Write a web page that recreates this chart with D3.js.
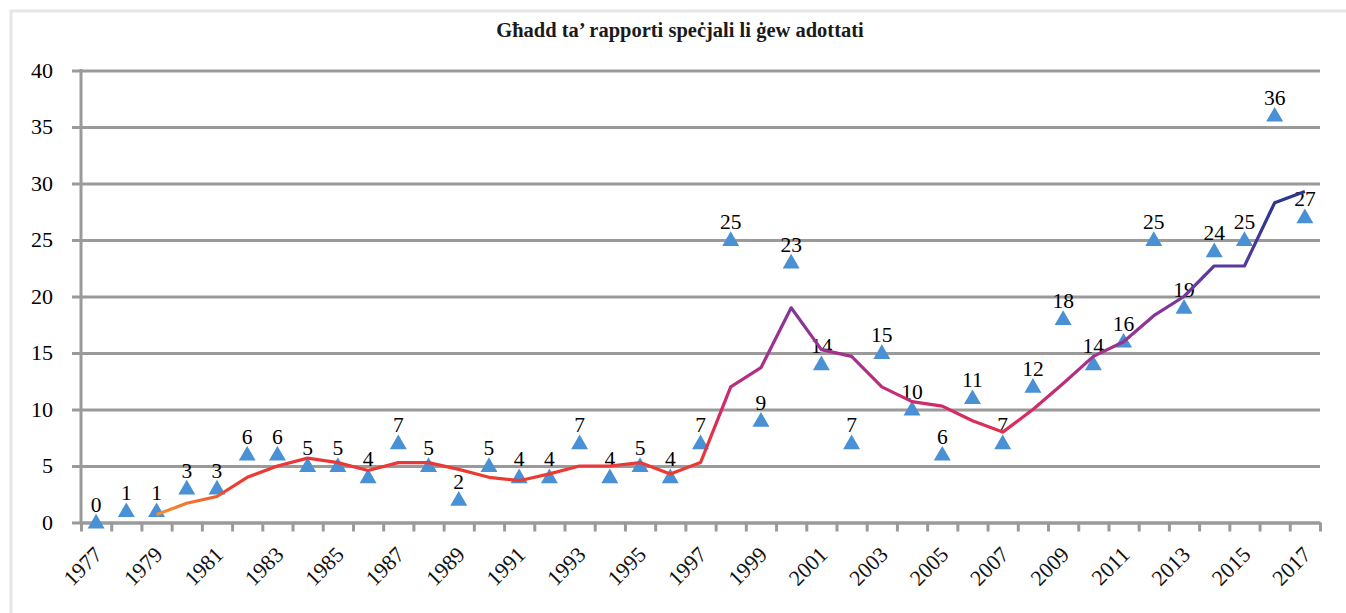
<!DOCTYPE html>
<html>
<head>
<meta charset="utf-8">
<script src="https://cdn.jsdelivr.net/npm/d3@7"></script>
<style>
  body { margin: 0; background: #fff; }
  svg { display: block; font-family: "Liberation Serif", "DejaVu Serif", serif; }
</style>
</head>
<body>
<svg id="chart" width="1346" height="613"></svg>
<script>
const title = "Għadd ta’ rapporti speċjali li ġew adottati";

const years = [1977, 1978, 1979, 1980, 1981, 1982, 1983, 1984, 1985, 1986,
  1987, 1988, 1989, 1990, 1991, 1992, 1993, 1994, 1995, 1996,
  1997, 1998, 1999, 2000, 2001, 2002, 2003, 2004, 2005, 2006,
  2007, 2008, 2009, 2010, 2011, 2012, 2013, 2014, 2015, 2016, 2017];

const reports = [0, 1, 1, 3, 3, 6, 6, 5, 5, 4,
  7, 5, 2, 5, 4, 4, 7, 4, 5, 4,
  7, 25, 9, 23, 14, 7, 15, 10, 6, 11,
  7, 12, 18, 14, 16, 25, 19, 24, 25, 36, 27];

// moving-average trend line (starts in 1979)
const trend = [null, null, 0.7, 1.7, 2.3, 4, 5, 5.7, 5.3, 4.6,
  5.3, 5.3, 4.7, 4, 3.7, 4.3, 5, 5, 5.3, 4.3,
  5.3, 12, 13.7, 19, 15.3, 14.7, 12, 10.7, 10.3, 9,
  8, 10, 12.3, 14.7, 16, 18.3, 20, 22.7, 22.7, 28.3, 29.3];

const yTicks = [0, 5, 10, 15, 20, 25, 30, 35, 40];
const labelYears = years.filter((d, i) => i % 2 === 0);

// colour of the trend line changes with its height
const trendStops = [
  { v: 0, c: "#f7a233" },
  { v: 1.6, c: "#f07a2e" },
  { v: 3, c: "#ee3e2e" },
  { v: 7, c: "#e63440" },
  { v: 10, c: "#d42a68" },
  { v: 14, c: "#aa2f8a" },
  { v: 18, c: "#8b3597" },
  { v: 22, c: "#60399d" },
  { v: 27, c: "#30378f" },
  { v: 30, c: "#2b348b" }
];

const svg = d3.select("#chart");
const plotLeft = 81, plotRight = 1320, plotTop = 70.5, plotBottom = 522.5;

const x = d3.scaleBand().domain(years).range([plotLeft, plotRight]);
const xEdge = d3.scaleLinear().domain([0, years.length]).range([plotLeft, plotRight]);
const y = d3.scaleLinear().domain([0, 40]).range([plotBottom, plotTop]);
const cx = yr => x(yr) + x.bandwidth() / 2;

// outer frame
svg.append("rect")
  .attr("x", 11).attr("y", 11)
  .attr("width", 1400).attr("height", 700)
  .attr("fill", "none")
  .attr("stroke", "#e6e6e6")
  .attr("stroke-width", 3);

svg.append("text")
  .attr("x", 680).attr("y", 37)
  .attr("text-anchor", "middle")
  .attr("font-weight", "bold")
  .attr("font-size", 20.5)
  .attr("fill", "#1a1a1a")
  .text(title);

// grid lines (with the little tick stubs left of the axis)
const yAxis = svg.append("g")
  .attr("transform", `translate(${plotRight},0)`)
  .call(d3.axisLeft(y).tickValues(yTicks).tickSize(plotRight - plotLeft + 9).tickFormat(""));
yAxis.select(".domain").remove();
yAxis.selectAll(".tick line")
  .attr("stroke", "#9a9a9a")
  .attr("stroke-width", 3);

svg.append("g").selectAll("text")
  .data(yTicks)
  .join("text")
  .attr("x", 53)
  .attr("y", d => y(d))
  .attr("dy", "0.34em")
  .attr("text-anchor", "end")
  .attr("font-size", 22)
  .attr("fill", "#000")
  .text(d => d);

// vertical axis line
svg.append("line")
  .attr("x1", plotLeft).attr("x2", plotLeft)
  .attr("y1", plotTop - 1.5).attr("y2", plotBottom + 1.5)
  .attr("stroke", "#9a9a9a")
  .attr("stroke-width", 3);

// x axis with tick marks between categories
const xAxis = svg.append("g")
  .attr("transform", `translate(0,${plotBottom})`)
  .call(d3.axisBottom(xEdge).tickValues(d3.range(years.length + 1)).tickSize(9).tickSizeOuter(0).tickFormat(""));
xAxis.select(".domain")
  .attr("stroke", "#9a9a9a")
  .attr("stroke-width", 3);
xAxis.selectAll(".tick line")
  .attr("stroke", "#9a9a9a")
  .attr("stroke-width", 3);

svg.append("g").selectAll("text")
  .data(labelYears)
  .join("text")
  .attr("text-anchor", "end")
  .attr("font-size", 22)
  .attr("fill", "#111")
  .attr("transform", d => `translate(${cx(d) + 7.5},556) rotate(-45)`)
  .text(d => d);

// markers
const tri = d3.symbol().type(d3.symbolTriangle).size(125);
svg.append("g").selectAll("path")
  .data(reports)
  .join("path")
  .attr("d", tri)
  .attr("transform", (d, i) => `translate(${cx(years[i])},${y(d) + 1})`)
  .attr("fill", "#4a90d4");

// data labels
svg.append("g").selectAll("text")
  .data(reports)
  .join("text")
  .attr("x", (d, i) => cx(years[i]))
  .attr("y", d => y(d) - 11)
  .attr("text-anchor", "middle")
  .attr("font-size", 21.5)
  .attr("fill", "#000")
  .text(d => d);

// trend line gradient
const grad = svg.append("defs").append("linearGradient")
  .attr("id", "trendGrad")
  .attr("gradientUnits", "userSpaceOnUse")
  .attr("x1", 0).attr("x2", 0)
  .attr("y1", y(0)).attr("y2", y(30));
grad.selectAll("stop")
  .data(trendStops)
  .join("stop")
  .attr("offset", d => d.v / 30)
  .attr("stop-color", d => d.c);

const line = d3.line()
  .defined(d => d != null)
  .x((d, i) => cx(years[i]))
  .y(d => y(d));

svg.append("path")
  .datum(trend)
  .attr("d", line)
  .attr("fill", "none")
  .attr("stroke", "url(#trendGrad)")
  .attr("stroke-width", 3.2)
  .attr("stroke-linejoin", "round");
</script>
</body>
</html>
